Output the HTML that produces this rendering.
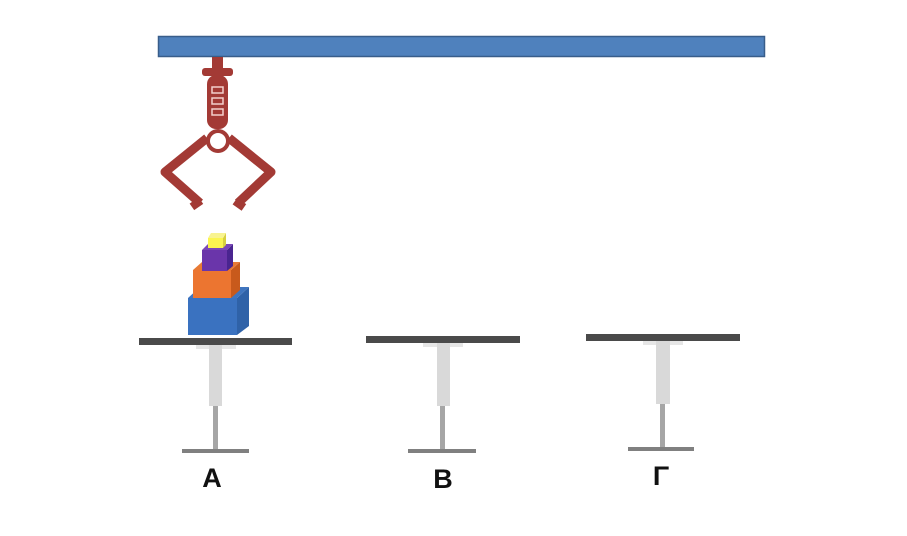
<!DOCTYPE html>
<html><head><meta charset="utf-8"><style>html,body{margin:0;padding:0;background:#fff}svg{display:block}</style></head>
<body>
<svg width="907" height="536" viewBox="0 0 907 536" xmlns="http://www.w3.org/2000/svg">
<rect x="0" y="0" width="907" height="536" fill="#fff"/>
<!-- beam -->
<rect x="158.5" y="36.5" width="606" height="20" fill="#4f81bd" stroke="#385d8a" stroke-width="1.5"/>
<!-- claw -->
<g fill="#a33a35">
<rect x="212" y="57" width="11" height="12"/>
<rect x="202" y="68" width="31" height="8" rx="3"/>
<rect x="207" y="75" width="21" height="54" rx="9"/>
<circle cx="218" cy="141" r="12"/>
<polyline points="207,138 165,172 200,203" fill="none" stroke="#a33a35" stroke-width="9" stroke-linejoin="round"/>
<polyline points="229,138 271,172 238,203" fill="none" stroke="#a33a35" stroke-width="9" stroke-linejoin="round"/>
<rect x="191" y="200" width="11" height="8" transform="rotate(-35 196 204)"/>
<rect x="234" y="200" width="11" height="8" transform="rotate(35 239 204)"/>
</g>
<circle cx="218" cy="141" r="8" fill="#fff"/>
<g fill="none" stroke="#f3d0cc" stroke-width="1.5">
<rect x="212" y="87" width="11" height="6"/>
<rect x="212" y="98" width="11" height="6"/>
<rect x="212" y="109" width="11" height="6"/>
</g>
<!-- blocks -->
<polygon points="237,298 249,287 249,326 237,335" fill="#2f62a8"/>
<polygon points="188,298 200,287 249,287 237,298" fill="#3f75bf"/>
<rect x="188" y="298" width="49" height="37" fill="#3a72c0"/>
<polygon points="231,270 240,262 240,290 231,298" fill="#c85a1c"/>
<polygon points="193,270 202,262 240,262 231,270" fill="#e87a35"/>
<rect x="193" y="270" width="38" height="28" fill="#ec7530"/>
<polygon points="227,250 233,244 233,266 227,271" fill="#4a2590"/>
<rect x="202" y="250" width="25" height="21" fill="#6a35aa"/>
<polygon points="202,250 208,244 233,244 227,250" fill="#7a47b8"/>
<polygon points="223,238 226,233 226,245 223,248" fill="#d8d040"/>
<rect x="208" y="238" width="15" height="10" fill="#fbf550"/>
<polygon points="208,238 211,233 226,233 223,238" fill="#f8f390"/>
<!-- tables -->
<g>
<rect x="139" y="338" width="153" height="7" fill="#4a4a4a"/>
<rect x="196" y="345" width="40" height="4" fill="#e6e6e6"/>
<rect x="209" y="345" width="13" height="61" fill="#d9d9d9"/>
<rect x="213" y="406" width="5" height="44" fill="#a6a6a6"/>
<rect x="182" y="449" width="67" height="4" fill="#808080"/>
</g>
<g>
<rect x="366" y="336" width="154" height="7" fill="#4a4a4a"/>
<rect x="423" y="343" width="40" height="4" fill="#e6e6e6"/>
<rect x="437" y="343" width="13" height="63" fill="#d9d9d9"/>
<rect x="440" y="406" width="5" height="44" fill="#a6a6a6"/>
<rect x="408" y="449" width="68" height="4" fill="#808080"/>
</g>
<g>
<rect x="586" y="334" width="154" height="7" fill="#4a4a4a"/>
<rect x="643" y="341" width="40" height="4" fill="#e6e6e6"/>
<rect x="656" y="341" width="14" height="63" fill="#d9d9d9"/>
<rect x="660" y="404" width="5" height="44" fill="#a6a6a6"/>
<rect x="628" y="447" width="66" height="4" fill="#808080"/>
</g>
<g font-family="Liberation Sans, sans-serif" font-weight="bold" font-size="27" fill="#111" text-anchor="middle">
<text x="212" y="487">A</text>
<text x="443" y="488">B</text>
<text x="661" y="485">Γ</text>
</g>
</svg>
</body></html>
